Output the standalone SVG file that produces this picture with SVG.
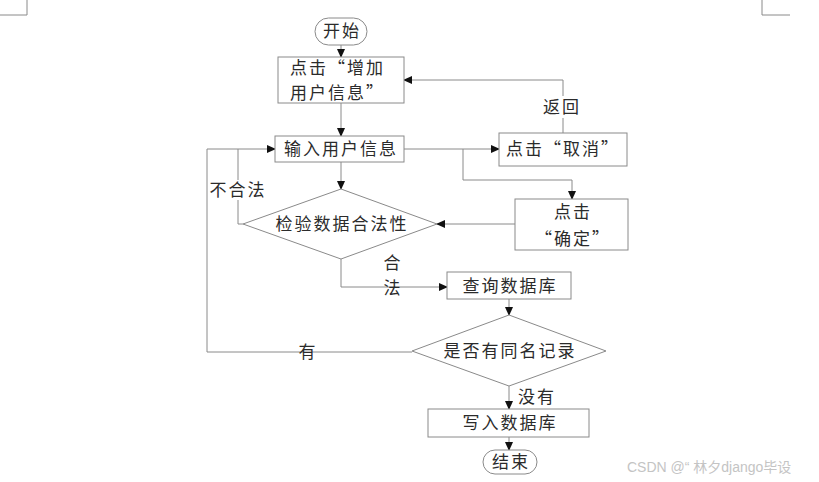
<svg xmlns="http://www.w3.org/2000/svg" width="819" height="482" viewBox="0 0 819 482">
<defs>
<style>
.n{fill:#fff;stroke:#8a8a8a;stroke-width:1}
.c{fill:none;stroke:#8a8a8a;stroke-width:1}
.t{font-family:"Noto Sans CJK SC","Liberation Sans",sans-serif;font-size:17px;fill:#2b2b2b;letter-spacing:2px}
.m{text-anchor:middle}
.w{font-family:"Liberation Sans","Noto Sans CJK SC",sans-serif;font-size:14px;fill:#c4c4c4}
</style>
<marker id="a" markerWidth="9" markerHeight="8" refX="8" refY="4" orient="auto" markerUnits="userSpaceOnUse">
<path d="M0,0 L9,4 L0,8 Z" fill="#111"/>
</marker>
</defs>
<rect width="819" height="482" fill="#fff"/>
<g id="corners" class="c">
<path d="M0,15 H27 V0"/>
<path d="M762,0 V15 H790"/>
</g>
<g id="connectors">
<path class="c" d="M341,45 V57" marker-end="url(#a)"/>
<path class="c" d="M341,103 V136" marker-end="url(#a)"/>
<path class="c" d="M404,149 H499" marker-end="url(#a)"/>
<path class="c" d="M563,133 V80 H404" marker-end="url(#a)"/>
<path class="c" d="M463,149 V180 H572 V199" marker-end="url(#a)"/>
<path class="c" d="M341,162 V189" marker-end="url(#a)"/>
<path class="c" d="M515,224 H437" marker-end="url(#a)"/>
<path class="c" d="M243,224 H238 V149 H275" marker-end="url(#a)"/>
<path class="c" d="M412,352 H207 V149 H238"/>
<path class="c" d="M341,259 V287 H447" marker-end="url(#a)"/>
<path class="c" d="M509,299 V315" marker-end="url(#a)"/>
<path class="c" d="M509,386 V409" marker-end="url(#a)"/>
<path class="c" d="M509,437 V450" marker-end="url(#a)"/>
<rect x="540" y="96" width="44" height="22" fill="#fff"/>
<text class="t m" x="562" y="113">返回</text>
<rect x="208" y="180" width="58" height="20" fill="#fff"/>
<text class="t m" x="238" y="196">不合法</text>
<text class="t m" x="393" y="269">合</text>
<text class="t m" x="393" y="294">法</text>
<text class="t m" x="308" y="358">有</text>
<text class="t m" x="537" y="403">没有</text>
</g>
<g id="start">
<rect class="n" x="315" y="18" width="52" height="27" rx="13.5"/>
<text class="t m" x="342" y="37">开始</text>
</g>
<g id="click-add">
<rect class="n" x="278" y="57" width="126" height="46"/>
<text class="t" x="290" y="74">点击“增加</text>
<text class="t" x="290" y="99">用户信息”</text>
</g>
<g id="input">
<rect class="n" x="275" y="136" width="129" height="26"/>
<text class="t m" x="341" y="155">输入用户信息</text>
</g>
<g id="cancel">
<rect class="n" x="499" y="133" width="128" height="33"/>
<text class="t m" x="563" y="155">点击“取消”</text>
</g>
<g id="confirm">
<rect class="n" x="515" y="199" width="113" height="51"/>
<text class="t m" x="573" y="218">点击</text>
<text class="t m" x="573" y="245">“确定”</text>
</g>
<g id="validate">
<polygon class="n" points="341,189 437,224 341,259 243,224"/>
<text class="t m" x="342" y="230">检验数据合法性</text>
</g>
<g id="query">
<rect class="n" x="447" y="272" width="124" height="27"/>
<text class="t m" x="510" y="292">查询数据库</text>
</g>
<g id="duplicate">
<polygon class="n" points="509,315 606,351 509,386 412,351"/>
<text class="t m" x="510" y="357">是否有同名记录</text>
</g>
<g id="write">
<rect class="n" x="428" y="409" width="161" height="28"/>
<text class="t m" x="510" y="429">写入数据库</text>
</g>
<g id="end">
<rect class="n" x="483" y="450" width="54" height="24" rx="12"/>
<text class="t m" x="511" y="468">结束</text>
</g>
<text class="w" x="627" y="472">CSDN @“ 林夕django毕设</text>
</svg>
